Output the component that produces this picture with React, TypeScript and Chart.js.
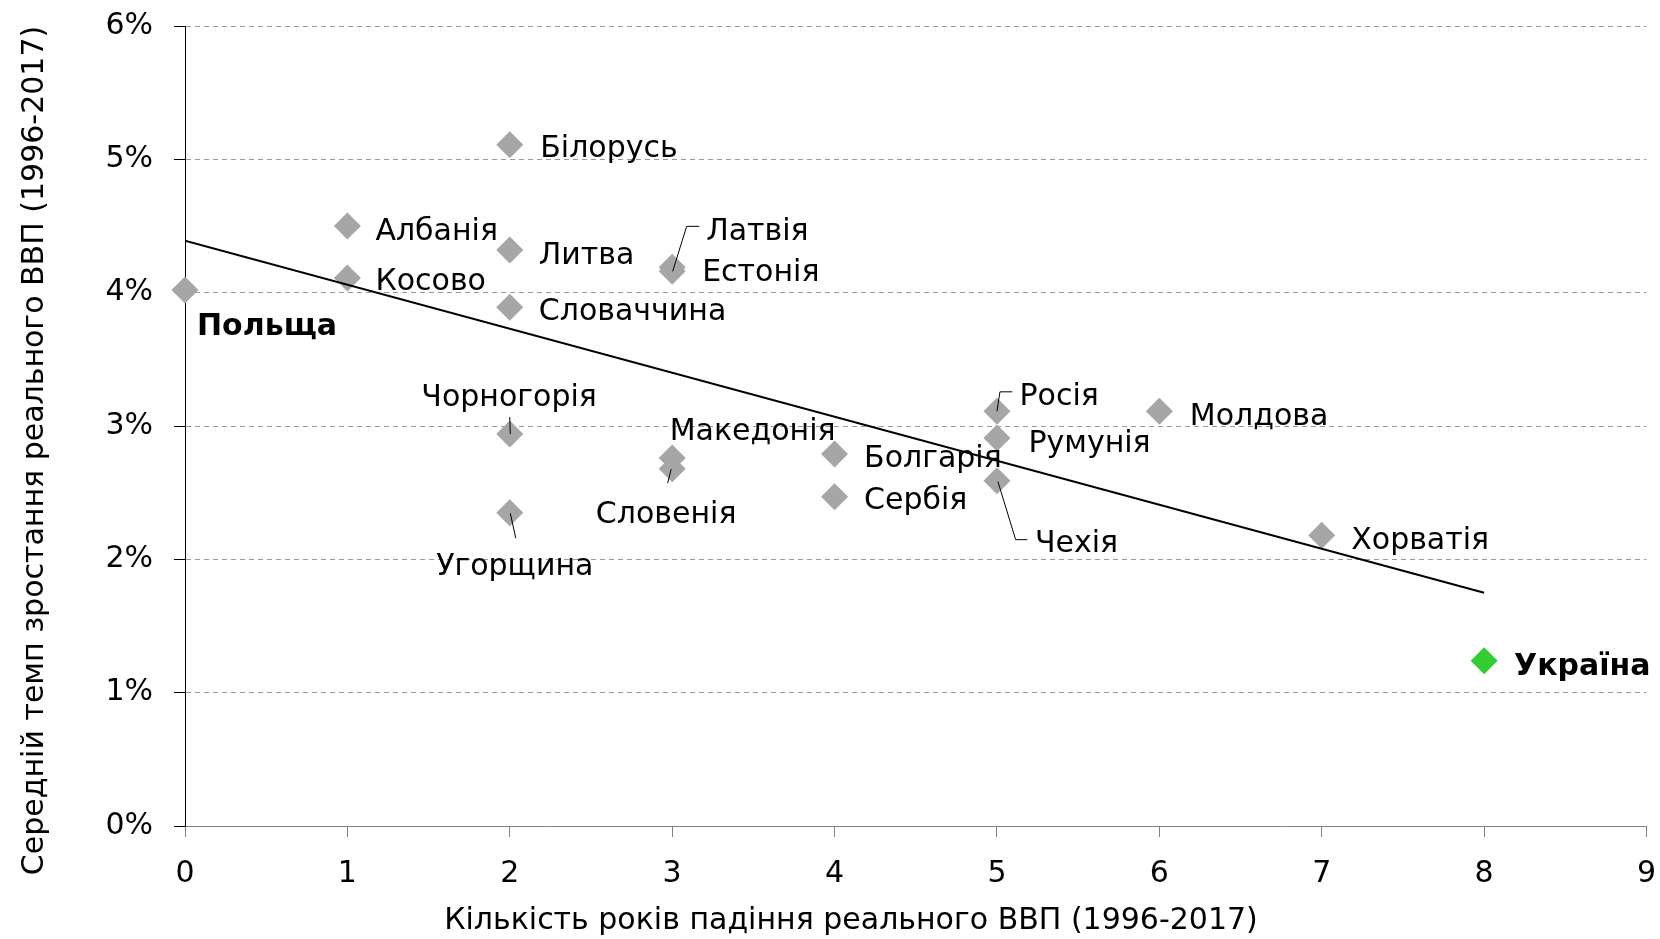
import React, { useEffect, useRef } from "react";
import { Chart, registerables } from "chart.js";

Chart.register(...registerables);

// ---- Data ----
const countries = [
  "Польща", "Албанія", "Косово", "Білорусь", "Литва", "Словаччина",
  "Латвія", "Естонія", "Чорногорія", "Угорщина", "Македонія", "Словенія",
  "Болгарія", "Сербія", "Росія", "Румунія", "Чехія", "Молдова", "Хорватія", "Україна",
];
const yearsOfDecline = [0, 1, 1, 2, 2, 2, 3, 3, 2, 2, 3, 3, 4, 4, 5, 5, 5, 6, 7, 8];
const avgGrowth = [
  4.02, 4.5, 4.11, 5.11, 4.32, 3.89,
  4.19, 4.16, 2.94, 2.35, 2.76, 2.68,
  2.79, 2.47, 3.11, 2.91, 2.59, 3.11, 2.18, 1.24,
];
const boldCountries = ["Польща", "Україна"];
const highlightCountry = "Україна";
const trendX = [0, 8];
const trendY = [4.39, 1.75];
const xMin = 0, xMax = 9, yMin = 0, yMax = 6;
const xAxisTitle = "Кількість років падіння реального ВВП (1996-2017)";
const yAxisTitle = "Середній темп зростання реального ВВП (1996-2017)";

// ---- Label layout (pixel offsets from each point; style only) ----
type Lay = { dx: number; dy: number; align?: CanvasTextAlign; leader?: number[][] };
const labelLayout: Lay[] = [
  { dx: 12, dy: 45 },
  { dx: 28, dy: 13.5 },
  { dx: 28, dy: 12 },
  { dx: 30.5, dy: 12 },
  { dx: 29, dy: 13.6 },
  { dx: 29, dy: 12.6 },
  { dx: 34, dy: -27, leader: [[0.5, 4], [14.5, -41], [27, -41]] },
  { dx: 30, dy: 10 },
  { dx: -0.7, dy: -28, align: "center", leader: [[0, -17], [0.5, 0]] },
  { dx: 5, dy: 62, align: "center", leader: [[0.5, 0.5], [6, 25.5]] },
  { dx: -2.5, dy: -18 },
  { dx: -6, dy: 54, align: "center", leader: [[-1, 0.5], [-4.5, 14.5]] },
  { dx: 29.5, dy: 12.5 },
  { dx: 29.5, dy: 12 },
  { dx: 22.5, dy: -6.6, leader: [[0, 0], [3, -19.5], [15.3, -19.5]] },
  { dx: 31.5, dy: 13.5 },
  { dx: 38, dy: 71, leader: [[1, 1], [18.7, 59], [30.3, 59]] },
  { dx: 30.5, dy: 13.4 },
  { dx: 29.5, dy: 13.8 },
  { dx: 30, dy: 14 },
];

const FONT = '"DejaVu Sans"';

const labelPlugin = {
  id: "countryLabels",
  afterDatasetsDraw(chart: any) {
    const meta = chart.getDatasetMeta(1);
    const ctx = chart.ctx as CanvasRenderingContext2D;
    ctx.save();
    meta.data.forEach((el: any, i: number) => {
      const lay = labelLayout[i];
      const px = el.x, py = el.y;
      if (lay.leader) {
        ctx.beginPath();
        ctx.strokeStyle = "#000";
        ctx.lineWidth = 1;
        lay.leader.forEach(([a, b], k) => {
          if (k === 0) ctx.moveTo(px + a, py + b);
          else ctx.lineTo(px + a, py + b);
        });
        ctx.stroke();
      }
      const bold = boldCountries.includes(countries[i]);
      ctx.font = `${bold ? "bold " : ""}30px ${FONT}`;
      ctx.textAlign = lay.align || "left";
      ctx.textBaseline = "alphabetic";
      ctx.fillStyle = "#000";
      ctx.fillText(countries[i], px + lay.dx, py + lay.dy);
    });
    ctx.restore();
  },
};

const titlePlugin = {
  id: "axisTitles",
  afterDraw(chart: any) {
    const ctx = chart.ctx as CanvasRenderingContext2D;
    ctx.save();
    ctx.font = `30px ${FONT}`;
    ctx.fillStyle = "#000";
    ctx.textAlign = "center";
    ctx.textBaseline = "alphabetic";
    ctx.fillText(xAxisTitle, 851, 929);
    ctx.translate(43, 450.5);
    ctx.rotate(-Math.PI / 2);
    ctx.fillText(yAxisTitle, 0, 0);
    ctx.restore();
  },
};

export default function App() {
  const ref = useRef<HTMLCanvasElement | null>(null);
  useEffect(() => {
    if (!ref.current) return;
    const pts = countries.map((_, i) => ({ x: yearsOfDecline[i], y: avgGrowth[i] }));
    const trend = trendX.map((x, i) => ({ x, y: trendY[i] }));
    const chart = new Chart(ref.current, {
      type: "scatter",
      data: {
        datasets: [
          {
            label: "trend",
            data: trend,
            showLine: true,
            borderColor: "#000",
            borderWidth: 2,
            pointRadius: 0,
            pointHoverRadius: 0,
          } as any,
          {
            label: "countries",
            data: pts,
            clip: false,
            pointStyle: "rectRot",
            pointRadius: 13.5,
            pointHoverRadius: 13.5,
            borderWidth: 0,
            backgroundColor: (c: any) =>
              countries[c.dataIndex] === highlightCountry ? "#33CC33" : "#A6A6A6",
          } as any,
        ],
      },
      options: {
        animation: false,
        responsive: false,
        events: [],
        layout: { padding: { top: 26, right: 12, bottom: 0, left: 0 } },
        plugins: { legend: { display: false }, tooltip: { enabled: false } },
        scales: {
          x: {
            type: "linear",
            min: xMin,
            max: xMax,
            afterFit: (s: any) => {
              s.height = 113;
              s.paddingLeft = 0;
              s.paddingRight = 0;
            },
            ticks: { stepSize: 1, color: "#000", padding: 19, font: { family: FONT, size: 30 } },
            grid: {
              drawOnChartArea: false,
              drawTicks: true,
              tickLength: 11,
              tickColor: "#808080",
              color: "#808080",
            },
            border: { color: "#808080", width: 1 },
          },
          y: {
            type: "linear",
            min: yMin,
            max: yMax,
            afterFit: (s: any) => {
              s.width = 185;
              s.paddingTop = 0;
              s.paddingBottom = 0;
            },
            ticks: {
              stepSize: 1,
              color: "#000",
              padding: 21,
              font: { family: FONT, size: 30 },
              callback: (v: any) => `${v}%`,
            },
            grid: {
              drawTicks: true,
              tickLength: 11,
              tickColor: "#000",
              tickBorderDash: [],
              color: (c: any) => (c.tick && c.tick.value === 0 ? "rgba(0,0,0,0)" : "#999999"),
              lineWidth: 1,
            },
            border: { color: "#000", width: 1, dash: [5, 4] },
          },
        },
      } as any,
      plugins: [labelPlugin, titlePlugin],
    });
    return () => chart.destroy();
  }, []);
  return (
    <canvas
      ref={ref}
      width={1660}
      height={939}
      style={{ display: "block", position: "absolute", left: 0, top: 0 }}
    />
  );
}
